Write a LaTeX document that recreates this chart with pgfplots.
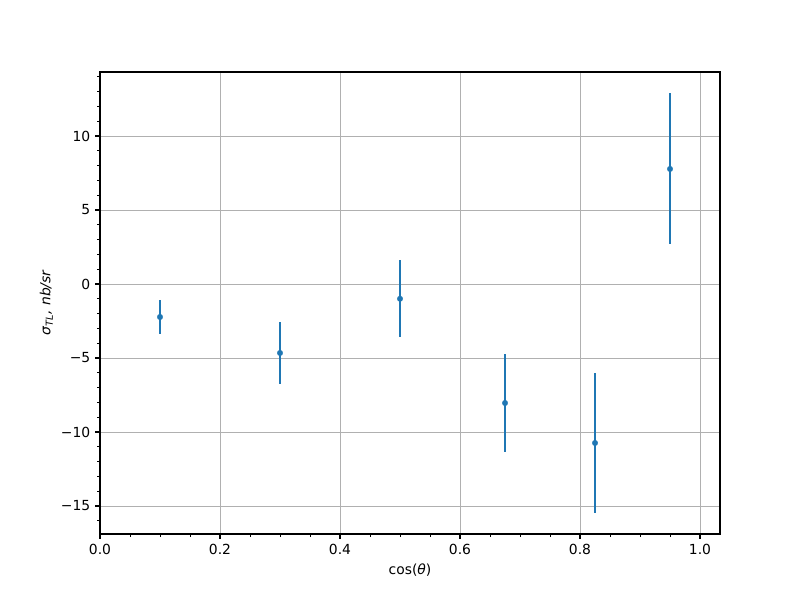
\documentclass[border=0pt]{standalone}
\usepackage{pgfplots}
\pgfplotsset{compat=1.18}
\usepackage{fontspec}
\setmainfont{DejaVu Sans}
\definecolor{mplblue}{HTML}{1F77B4}
\definecolor{mplgrid}{HTML}{B0B0B0}
\begin{document}
\begin{tikzpicture}
\path[use as bounding box] (0,0) rectangle (576pt,432pt);
\begin{axis}[
  at={(72pt,47.52pt)}, anchor=south west,
  scale only axis, width=446.4pt, height=332.64pt,
  xmin=0, xmax=1.0333, ymin=-16.89, ymax=14.32,
  xtick={0,0.2,0.4,0.6,0.8,1.0},
  xticklabels={0.0,0.2,0.4,0.6,0.8,1.0},
  ytick={-15,-10,-5,0,5,10},
  yticklabels={−15,−10,−5,0,5,10},
  minor xtick={0.05,0.1,...,1.0},
  minor ytick={-16,-15,...,14},
  every tick label/.append style={font=\fontsize{10}{12}\selectfont},
  label style={font=\fontsize{10}{12}\selectfont},
  tick align=outside, tick pos=left,
  major tick length=3.5pt, minor tick length=2pt,
  every tick/.style={black, line width=0.8pt},
  every minor tick/.style={black, line width=0.6pt},
  grid=major,
  major grid style={color=mplgrid, line width=0.6pt},
  axis line style={line width=0.8pt},
  xlabel={cos({\itshape θ})},
  ylabel={{\itshape σ\textsubscript{TL}, nb/sr}},
  ylabel style={yshift=-1pt},
]
\addplot[mplblue, line width=1.5pt, mark=*, mark size=2pt, mark options={draw=mplblue, fill=mplblue, line width=0.2pt}, only marks,
  error bars/.cd, y dir=both, y explicit, error bar style={line width=1.5pt, mplblue}, error mark=none]
  table[x=x, y=y, y error=e] {
x y e
0.1 -2.23 1.18
0.3 -4.66 2.10
0.5 -1.00 2.60
0.675 -8.04 3.30
0.825 -10.74 4.70
0.95 7.77 5.10
};
\end{axis}
\end{tikzpicture}
\end{document}
